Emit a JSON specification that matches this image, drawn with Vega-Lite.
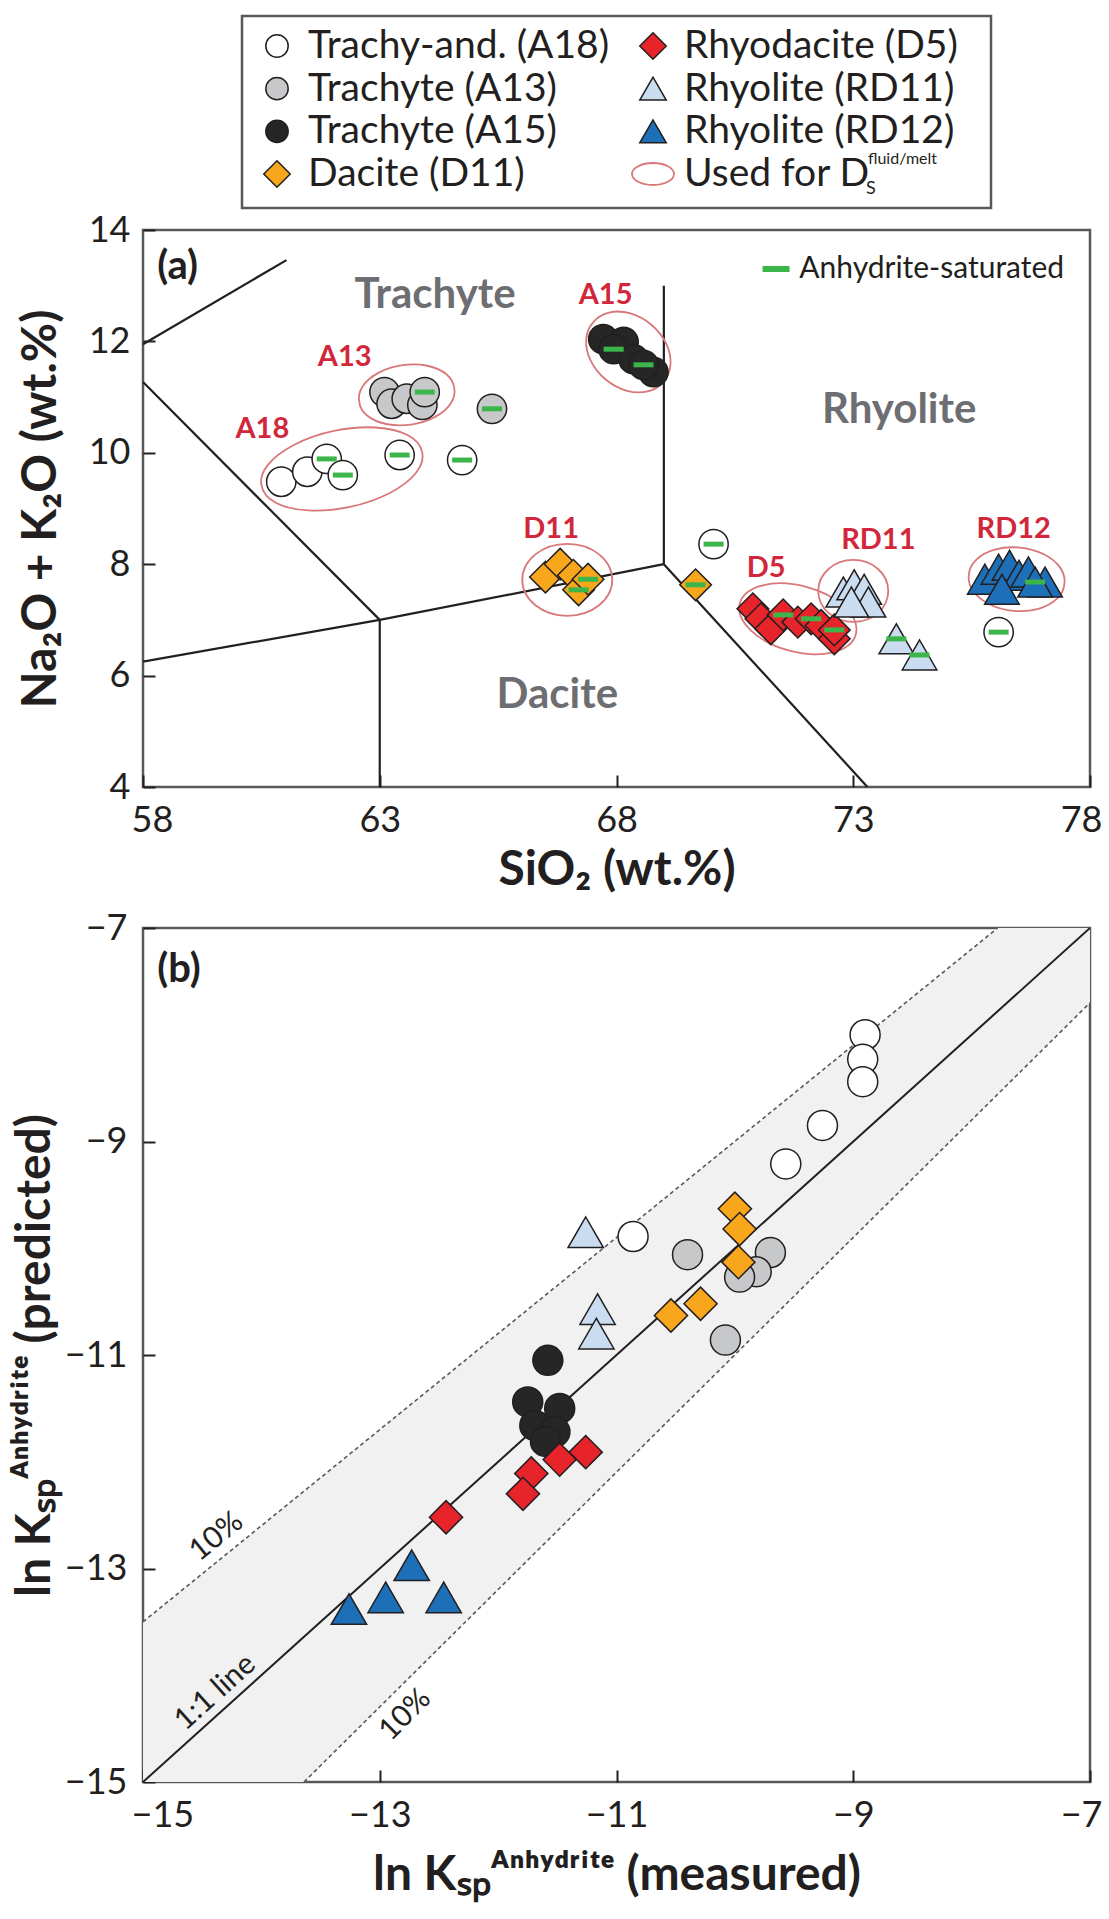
{
  "$schema": "https://vega.github.io/schema/vega-lite/v6.json",
  "background": "white",
  "padding": {"left": 10, "top": 14, "right": 4, "bottom": 5},
  "config": {
    "font": "Lato",
    "view": {"stroke": "#58595b", "strokeWidth": 2.5},
    "axis": {
      "domain": false, "grid": false,
      "labelFont": "Lato", "labelFontSize": 36, "labelColor": "#231f20",
      "titleFont": "Lato", "titleFontSize": 48, "titleFontWeight": "bold", "titleColor": "#231f20",
      "tickColor": "#231f20", "tickWidth": 2, "tickSize": -12,
      "labelFlush": false, "labelOverlap": false
    }
  },
  "datasets": {
    "legend": [
      {"col": 1, "row": 1, "series": "A18", "label": "Trachy-and. (A18)"},
      {"col": 1, "row": 2, "series": "A13", "label": "Trachyte (A13)"},
      {"col": 1, "row": 3, "series": "A15", "label": "Trachyte (A15)"},
      {"col": 1, "row": 4, "series": "D11", "label": "Dacite (D11)"},
      {"col": 2, "row": 1, "series": "D5", "label": "Rhyodacite (D5)"},
      {"col": 2, "row": 2, "series": "RD11", "label": "Rhyolite (RD11)"},
      {"col": 2, "row": 3, "series": "RD12", "label": "Rhyolite (RD12)"},
      {"col": 2, "row": 4, "series": "Used", "label": "Used for D"}
    ],
    "tas": [
      {"seg": 1, "x": 58, "y": 11.95}, {"seg": 1, "x": 61.03, "y": 13.46},
      {"seg": 2, "x": 58, "y": 11.27}, {"seg": 2, "x": 63, "y": 7},
      {"seg": 3, "x": 58, "y": 6.25}, {"seg": 3, "x": 63, "y": 7},
      {"seg": 4, "x": 63, "y": 7}, {"seg": 4, "x": 69, "y": 8},
      {"seg": 5, "x": 63, "y": 4}, {"seg": 5, "x": 63, "y": 7},
      {"seg": 6, "x": 69, "y": 8}, {"seg": 6, "x": 69, "y": 13},
      {"seg": 7, "x": 69, "y": 8}, {"seg": 7, "x": 73.3, "y": 4}
    ],
    "ellipses": [
      {"grp": "A18", "x": 62.2, "y": 9.71},
      {"grp": "A13", "x": 63.57, "y": 11.04},
      {"grp": "A15", "x": 68.25, "y": 11.81},
      {"grp": "D11", "x": 66.96, "y": 7.72},
      {"grp": "D5", "x": 71.83, "y": 7.02},
      {"grp": "RD11", "x": 73.0, "y": 7.52},
      {"grp": "RD12", "x": 76.45, "y": 7.73}
    ],
    "pa": [
      {"series": "A18", "x": 60.92, "y": 9.48, "sat": false},
      {"series": "A18", "x": 61.47, "y": 9.66, "sat": false},
      {"series": "A18", "x": 61.88, "y": 9.89, "sat": true},
      {"series": "A18", "x": 62.22, "y": 9.6, "sat": true},
      {"series": "A18", "x": 63.42, "y": 9.96, "sat": true},
      {"series": "A18", "x": 64.74, "y": 9.87, "sat": true},
      {"series": "A18", "x": 70.05, "y": 8.36, "sat": true},
      {"series": "A18", "x": 76.07, "y": 6.78, "sat": true},
      {"series": "A13", "x": 63.1, "y": 11.09, "sat": false},
      {"series": "A13", "x": 63.25, "y": 10.88, "sat": false},
      {"series": "A13", "x": 63.57, "y": 10.97, "sat": false},
      {"series": "A13", "x": 63.9, "y": 10.86, "sat": false},
      {"series": "A13", "x": 63.95, "y": 11.09, "sat": true},
      {"series": "A13", "x": 65.37, "y": 10.79, "sat": true},
      {"series": "A15", "x": 67.72, "y": 12.04, "sat": false},
      {"series": "A15", "x": 68.15, "y": 11.99, "sat": false},
      {"series": "A15", "x": 67.94, "y": 11.86, "sat": true},
      {"series": "A15", "x": 68.36, "y": 11.68, "sat": false},
      {"series": "A15", "x": 68.78, "y": 11.45, "sat": false},
      {"series": "A15", "x": 68.57, "y": 11.58, "sat": true},
      {"series": "D11", "x": 66.5, "y": 7.77, "sat": false},
      {"series": "D11", "x": 66.81, "y": 8.0, "sat": false},
      {"series": "D11", "x": 67.09, "y": 7.8, "sat": false},
      {"series": "D11", "x": 67.2, "y": 7.54, "sat": true},
      {"series": "D11", "x": 67.4, "y": 7.73, "sat": true},
      {"series": "D11", "x": 69.67, "y": 7.63, "sat": true},
      {"series": "D5", "x": 70.88, "y": 7.2, "sat": false},
      {"series": "D5", "x": 71.05, "y": 7.02, "sat": false},
      {"series": "D5", "x": 71.26, "y": 6.84, "sat": false},
      {"series": "D5", "x": 71.52, "y": 7.09, "sat": true},
      {"series": "D5", "x": 71.83, "y": 6.96, "sat": false},
      {"series": "D5", "x": 72.11, "y": 7.02, "sat": true},
      {"series": "D5", "x": 72.32, "y": 6.9, "sat": false},
      {"series": "D5", "x": 72.6, "y": 6.66, "sat": false},
      {"series": "D5", "x": 72.6, "y": 6.82, "sat": true},
      {"series": "RD11", "x": 72.79, "y": 7.5, "sat": false},
      {"series": "RD11", "x": 73.02, "y": 7.63, "sat": false},
      {"series": "RD11", "x": 73.23, "y": 7.55, "sat": false},
      {"series": "RD11", "x": 73.32, "y": 7.32, "sat": false},
      {"series": "RD11", "x": 72.96, "y": 7.32, "sat": false},
      {"series": "RD11", "x": 73.91, "y": 6.66, "sat": true},
      {"series": "RD11", "x": 74.4, "y": 6.37, "sat": true},
      {"series": "RD12", "x": 75.78, "y": 7.73, "sat": false},
      {"series": "RD12", "x": 76.07, "y": 7.91, "sat": false},
      {"series": "RD12", "x": 76.3, "y": 7.98, "sat": false},
      {"series": "RD12", "x": 76.5, "y": 7.8, "sat": false},
      {"series": "RD12", "x": 76.7, "y": 7.86, "sat": false},
      {"series": "RD12", "x": 76.14, "y": 7.55, "sat": false},
      {"series": "RD12", "x": 77.05, "y": 7.68, "sat": false},
      {"series": "RD12", "x": 76.84, "y": 7.68, "sat": true}
    ],
    "pa_fields": [
      {"label": "Trachyte", "x": 64.17, "y": 12.83},
      {"label": "Rhyolite", "x": 73.97, "y": 10.77},
      {"label": "Dacite", "x": 66.75, "y": 5.65}
    ],
    "pa_groups": [
      {"label": "A18", "x": 60.52, "y": 10.43},
      {"label": "A13", "x": 62.26, "y": 11.72},
      {"label": "A15", "x": 67.77, "y": 12.83},
      {"label": "D11", "x": 66.62, "y": 8.63},
      {"label": "D5", "x": 71.16, "y": 7.93},
      {"label": "RD11", "x": 73.53, "y": 8.43},
      {"label": "RD12", "x": 76.39, "y": 8.63}
    ],
    "band": [
      {"x": -15, "y": -16.5, "y2": -13.5},
      {"x": -7, "y": -7.7, "y2": -6.3}
    ],
    "dash": [
      {"seg": "u", "x": -15, "y": -13.5}, {"seg": "u", "x": -7.78, "y": -7},
      {"seg": "l", "x": -13.64, "y": -15}, {"seg": "l", "x": -7, "y": -7.7}
    ],
    "one": [
      {"x": -15, "y": -15}, {"x": -7, "y": -7}
    ],
    "pb": [
      {"series": "A18", "x": -8.9, "y": -8.0},
      {"series": "A18", "x": -8.92, "y": -8.23},
      {"series": "A18", "x": -8.92, "y": -8.44},
      {"series": "A18", "x": -9.26, "y": -8.85},
      {"series": "A18", "x": -9.57, "y": -9.21},
      {"series": "A18", "x": -10.86, "y": -9.89},
      {"series": "A13", "x": -10.4, "y": -10.06},
      {"series": "A13", "x": -9.7, "y": -10.04},
      {"series": "A13", "x": -9.82, "y": -10.22},
      {"series": "A13", "x": -9.96, "y": -10.27},
      {"series": "A13", "x": -10.08, "y": -10.86},
      {"series": "A15", "x": -11.58, "y": -11.05},
      {"series": "A15", "x": -11.75, "y": -11.44},
      {"series": "A15", "x": -11.48, "y": -11.5},
      {"series": "A15", "x": -11.69, "y": -11.66},
      {"series": "A15", "x": -11.52, "y": -11.72},
      {"series": "A15", "x": -11.6, "y": -11.81},
      {"series": "D11", "x": -10.0, "y": -9.63},
      {"series": "D11", "x": -9.96, "y": -9.82},
      {"series": "D11", "x": -9.97, "y": -10.13},
      {"series": "D11", "x": -10.29, "y": -10.52},
      {"series": "D11", "x": -10.54, "y": -10.63},
      {"series": "D5", "x": -11.26, "y": -11.91},
      {"series": "D5", "x": -11.48, "y": -11.98},
      {"series": "D5", "x": -11.72, "y": -12.11},
      {"series": "D5", "x": -11.79, "y": -12.3},
      {"series": "D5", "x": -12.44, "y": -12.52},
      {"series": "RD11", "x": -11.26, "y": -9.85},
      {"series": "RD11", "x": -11.16, "y": -10.57},
      {"series": "RD11", "x": -11.17, "y": -10.8},
      {"series": "RD12", "x": -13.26, "y": -13.38},
      {"series": "RD12", "x": -12.95, "y": -13.27},
      {"series": "RD12", "x": -12.73, "y": -12.97},
      {"series": "RD12", "x": -12.46, "y": -13.27}
    ]
  },
  "bounds": "flush",
  "center": true,
  "spacing": 22,
  "resolve": {"scale": {"shape": "independent", "fill": "independent", "stroke": "independent", "size": "independent"}},
  "vconcat": [
    {
      "width": 749,
      "height": 192,
      "view": {"stroke": "#58595b", "strokeWidth": 2.5},
      "data": {"name": "legend"},
      "encoding": {
        "x": {"field": "col", "type": "ordinal", "scale": {"type": "point", "domain": [1, 2], "range": [35, 411], "padding": 0}, "axis": null},
        "y": {"field": "row", "type": "ordinal", "scale": {"type": "point", "domain": [1, 2, 3, 4], "range": [30, 158], "padding": 0}, "axis": null}
      },
      "layer": [
        {
          "transform": [{"filter": "datum.series !== 'Used'"}],
          "mark": {"type": "point", "filled": true, "strokeWidth": 1.5, "stroke": "#231f20", "opacity": 1},
          "encoding": {
            "shape": {"field": "series", "type": "nominal", "legend": null, "scale": {"domain": ["A18", "A13", "A15", "D11", "D5", "RD11", "RD12"], "range": ["circle", "circle", "circle", "diamond", "diamond", "triangle-up", "triangle-up"]}},
            "size": {"field": "series", "type": "nominal", "legend": null, "scale": {"type": "ordinal", "domain": ["A18", "A13", "A15", "D11", "D5", "RD11", "RD12"], "range": [500, 500, 500, 700, 700, 700, 700]}},
            "fill": {"field": "series", "type": "nominal", "legend": null, "scale": {"domain": ["A18", "A13", "A15", "D11", "D5", "RD11", "RD12"], "range": ["#ffffff", "#c7c8ca", "#262626", "#f8a61c", "#e8242b", "#c9dcf0", "#1d6fb8"]}},
            "stroke": {"value": "#231f20"}
          }
        },
        {
          "transform": [{"filter": "datum.series === 'Used'"}],
          "mark": {"type": "point", "shape": "M-21 0 A21 11 0 1 0 21 0 A21 11 0 1 0 -21 0 Z", "size": 4, "filled": false, "color": "#d9787b", "strokeWidth": 1.8, "opacity": 1},
          "encoding": {}
        },
        {
          "mark": {"type": "text", "align": "left", "baseline": "middle", "dx": 31, "fontSize": 39, "font": "Lato", "color": "#231f20"},
          "encoding": {"text": {"field": "label"}}
        },
        {
          "transform": [{"filter": "datum.series === 'Used'"}],
          "mark": {"type": "text", "align": "left", "baseline": "middle", "dx": 213, "dy": 15, "fontSize": 18, "font": "Lato", "color": "#231f20"},
          "encoding": {"text": {"value": "S"}}
        },
        {
          "transform": [{"filter": "datum.series === 'Used'"}],
          "mark": {"type": "text", "align": "left", "baseline": "middle", "dx": 215, "dy": -15, "fontSize": 16, "font": "Lato", "color": "#231f20"},
          "encoding": {"text": {"value": "fluid/melt"}}
        }
      ]
    },
    {
      "width": 947,
      "height": 557,
      "encoding": {
        "x": {"field": "x", "type": "quantitative", "scale": {"domain": [58, 78], "nice": false, "zero": false}, "axis": {"values": [58, 63, 68, 73, 78], "title": "SiO₂ (wt.%)", "labelPadding": 28, "titlePadding": 8, "labelFlush": true, "labelFlushOffset": 12}},
        "y": {"field": "y", "type": "quantitative", "scale": {"domain": [4, 14], "nice": false, "zero": false}, "axis": {"values": [4, 6, 8, 10, 12, 14], "title": "Na₂O + K₂O (wt.%)", "labelPadding": 25, "titlePadding": 23}}
      },
      "layer": [
        {
          "data": {"name": "tas"},
          "mark": {"type": "line", "color": "#231f20", "strokeWidth": 2.2},
          "encoding": {"detail": {"field": "seg", "type": "nominal"}}
        },
        {"data": {"name": "ellipses"}, "transform": [{"filter": "datum.grp === 'A18'"}], "mark": {"type": "point", "shape": "M80.2 -17 A82 38 -12 1 0 -80.2 17 A82 38 -12 1 0 80.2 -17 Z", "size": 4, "filled": false, "color": "#d9787b", "strokeWidth": 1.8, "opacity": 1}, "encoding": {}},
        {"data": {"name": "ellipses"}, "transform": [{"filter": "datum.grp === 'A13'"}], "mark": {"type": "point", "shape": "M47.5 -6.7 A48 29 -8 1 0 -47.5 6.7 A48 29 -8 1 0 47.5 -6.7 Z", "size": 4, "filled": false, "color": "#d9787b", "strokeWidth": 1.8, "opacity": 1}, "encoding": {}},
        {"data": {"name": "ellipses"}, "transform": [{"filter": "datum.grp === 'A15'"}], "mark": {"type": "point", "shape": "M35.2 29.6 A46 35 40 1 0 -35.2 -29.6 A46 35 40 1 0 35.2 29.6 Z", "size": 4, "filled": false, "color": "#d9787b", "strokeWidth": 1.8, "opacity": 1}, "encoding": {}},
        {"data": {"name": "ellipses"}, "transform": [{"filter": "datum.grp === 'D11'"}], "mark": {"type": "point", "shape": "M45 0 A45 36 0 1 0 -45 0 A45 36 0 1 0 45 0 Z", "size": 4, "filled": false, "color": "#d9787b", "strokeWidth": 1.8, "opacity": 1}, "encoding": {}},
        {"data": {"name": "ellipses"}, "transform": [{"filter": "datum.grp === 'D5'"}], "mark": {"type": "point", "shape": "M58 15.5 A60 33 15 1 0 -58 -15.5 A60 33 15 1 0 58 15.5 Z", "size": 4, "filled": false, "color": "#d9787b", "strokeWidth": 1.8, "opacity": 1}, "encoding": {}},
        {"data": {"name": "ellipses"}, "transform": [{"filter": "datum.grp === 'RD11'"}], "mark": {"type": "point", "shape": "M35 0 A35 31 0 1 0 -35 0 A35 31 0 1 0 35 0 Z", "size": 4, "filled": false, "color": "#d9787b", "strokeWidth": 1.8, "opacity": 1}, "encoding": {}},
        {"data": {"name": "ellipses"}, "transform": [{"filter": "datum.grp === 'RD12'"}], "mark": {"type": "point", "shape": "M47.8 4.2 A48 31 5 1 0 -47.8 -4.2 A48 31 5 1 0 47.8 4.2 Z", "size": 4, "filled": false, "color": "#d9787b", "strokeWidth": 1.8, "opacity": 1}, "encoding": {}},
        {
          "data": {"name": "pa"},
          "mark": {"type": "point", "filled": true, "strokeWidth": 1.5, "opacity": 1},
          "encoding": {
            "shape": {"field": "series", "type": "nominal", "legend": null, "scale": {"domain": ["A18", "A13", "A15", "D11", "D5", "RD11", "RD12"], "range": ["circle", "circle", "circle", "diamond", "diamond", "triangle-up", "triangle-up"]}},
            "size": {"field": "series", "type": "nominal", "legend": null, "scale": {"type": "ordinal", "domain": ["A18", "A13", "A15", "D11", "D5", "RD11", "RD12"], "range": [860, 860, 860, 1000, 1000, 1200, 1200]}},
            "fill": {"field": "series", "type": "nominal", "legend": null, "scale": {"domain": ["A18", "A13", "A15", "D11", "D5", "RD11", "RD12"], "range": ["#ffffff", "#c7c8ca", "#262626", "#f8a61c", "#e8242b", "#c9dcf0", "#1d6fb8"]}},
            "stroke": {"value": "#231f20"}
          }
        },
        {
          "data": {"name": "pa"},
          "transform": [{"filter": "datum.sat"}],
          "mark": {"type": "point", "shape": "stroke", "filled": false, "color": "#3cb54a", "strokeWidth": 5, "size": 400, "opacity": 1},
          "encoding": {}
        },
        {
          "data": {"name": "pa_fields"},
          "mark": {"type": "text", "fontSize": 42, "fontWeight": "bold", "font": "Lato", "color": "#6d6e71"},
          "encoding": {"text": {"field": "label"}}
        },
        {
          "data": {"name": "pa_groups"},
          "mark": {"type": "text", "fontSize": 29, "fontWeight": "bold", "font": "Lato", "color": "#d2273a"},
          "encoding": {"text": {"field": "label"}}
        },
        {
          "data": {"values": [{"x": 58.3, "y": 13.34, "label": "(a)"}]},
          "mark": {"type": "text", "align": "left", "fontSize": 40, "fontWeight": "bold", "font": "Lato", "color": "#231f20"},
          "encoding": {"text": {"field": "label"}}
        },
        {
          "data": {"values": [{"x": 71.37, "y": 13.3}]},
          "mark": {"type": "point", "shape": "stroke", "filled": false, "color": "#3cb54a", "strokeWidth": 6, "size": 729, "opacity": 1},
          "encoding": {}
        },
        {
          "data": {"values": [{"x": 71.86, "y": 13.3, "label": "Anhydrite-saturated"}]},
          "mark": {"type": "text", "align": "left", "fontSize": 30, "font": "Lato", "color": "#231f20"},
          "encoding": {"text": {"field": "label"}}
        }
      ]
    },
    {
      "width": 947,
      "height": 97,
      "view": {"stroke": null},
      "data": {"values": []},
      "mark": {"type": "point", "opacity": 0},
      "encoding": {}
    },
    {
      "width": 947,
      "height": 854,
      "encoding": {
        "x": {"field": "x", "type": "quantitative", "scale": {"domain": [-15, -7], "nice": false, "zero": false}, "axis": {"values": [-15, -13, -11, -9, -7], "title": "ln Kₛₚᴬⁿʰʸᵈʳⁱᵗᵉ (measured)", "labelPadding": 28, "titlePadding": 18, "labelFlush": true, "labelFlushOffset": 12}},
        "y": {"field": "y", "type": "quantitative", "scale": {"domain": [-15, -7], "nice": false, "zero": false}, "axis": {"values": [-15, -13, -11, -9, -7], "title": "ln Kₛₚᴬⁿʰʸᵈʳⁱᵗᵉ (predicted)", "labelPadding": 28, "titlePadding": 5}}
      },
      "layer": [
        {
          "data": {"name": "band"},
          "mark": {"type": "area", "color": "#f1f1f2", "opacity": 1, "clip": true},
          "encoding": {"y2": {"field": "y2"}}
        },
        {
          "data": {"name": "dash"},
          "mark": {"type": "line", "color": "#58595b", "strokeWidth": 1.6, "strokeDash": [4, 3], "clip": true},
          "encoding": {"detail": {"field": "seg", "type": "nominal"}}
        },
        {
          "data": {"name": "one"},
          "mark": {"type": "line", "color": "#231f20", "strokeWidth": 2, "clip": true},
          "encoding": {}
        },
        {
          "data": {"name": "pb"},
          "mark": {"type": "point", "filled": true, "strokeWidth": 1.5, "opacity": 1},
          "encoding": {
            "shape": {"field": "series", "type": "nominal", "legend": null, "scale": {"domain": ["A18", "A13", "A15", "D11", "D5", "RD11", "RD12"], "range": ["circle", "circle", "circle", "diamond", "diamond", "triangle-up", "triangle-up"]}},
            "size": {"field": "series", "type": "nominal", "legend": null, "scale": {"type": "ordinal", "domain": ["A18", "A13", "A15", "D11", "D5", "RD11", "RD12"], "range": [900, 900, 900, 1100, 1100, 1250, 1250]}},
            "fill": {"field": "series", "type": "nominal", "legend": null, "scale": {"domain": ["A18", "A13", "A15", "D11", "D5", "RD11", "RD12"], "range": ["#ffffff", "#c7c8ca", "#262626", "#f8a61c", "#e8242b", "#c9dcf0", "#1d6fb8"]}},
            "stroke": {"value": "#231f20"}
          }
        },
        {
          "data": {"values": [{"x": -14.88, "y": -7.39, "label": "(b)"}]},
          "mark": {"type": "text", "align": "left", "fontSize": 40, "fontWeight": "bold", "font": "Lato", "color": "#231f20"},
          "encoding": {"text": {"field": "label"}}
        },
        {
          "data": {"values": [{"x": -14.38, "y": -12.7, "label": "10%"}]},
          "mark": {"type": "text", "angle": 321, "fontSize": 30, "font": "Lato", "color": "#231f20"},
          "encoding": {"text": {"field": "label"}}
        },
        {
          "data": {"values": [{"x": -14.39, "y": -14.16, "label": "1:1 line"}]},
          "mark": {"type": "text", "angle": 318, "fontSize": 30, "font": "Lato", "color": "#231f20"},
          "encoding": {"text": {"field": "label"}}
        },
        {
          "data": {"values": [{"x": -12.785, "y": -14.37, "label": "10%"}]},
          "mark": {"type": "text", "angle": 315, "fontSize": 30, "font": "Lato", "color": "#231f20"},
          "encoding": {"text": {"field": "label"}}
        }
      ]
    }
  ]
}
